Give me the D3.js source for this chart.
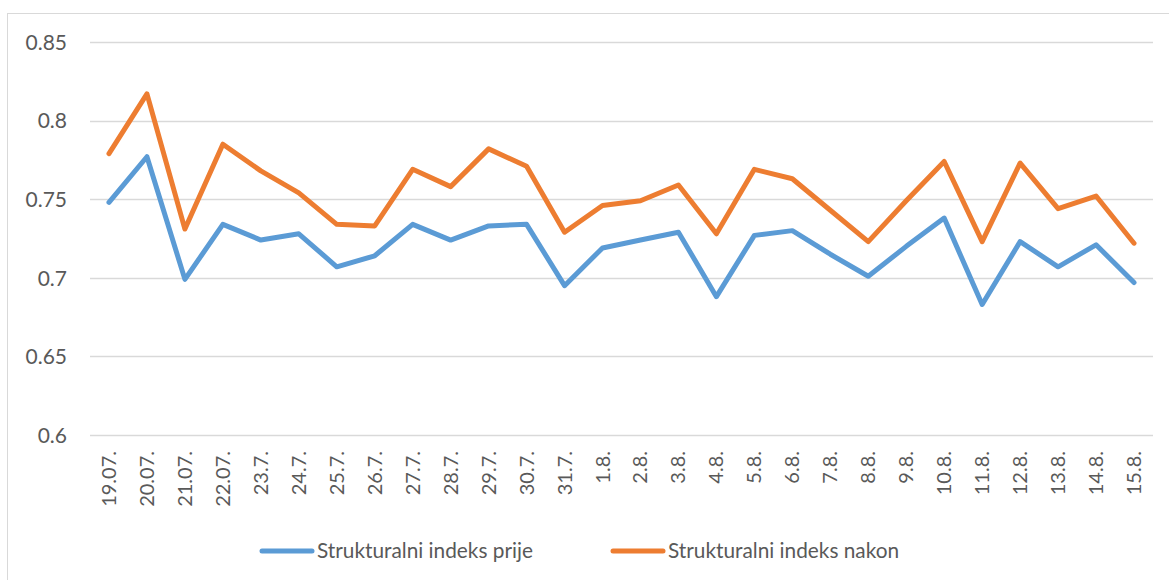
<!DOCTYPE html>
<html>
<head>
<meta charset="utf-8">
<script src="https://cdn.jsdelivr.net/npm/d3@7"></script>
<style>
  html, body { margin: 0; padding: 0; background: #fff; }
  svg { display: block; font-family: Lato, "Noto Sans", sans-serif; }
</style>
</head>
<body>
<svg id="chart" width="1169" height="580"></svg>
<script>
// Dates along the x axis
const categories = ["19.07.", "20.07.", "21.07.", "22.07.", "23.7.", "24.7.", "25.7.", "26.7.", "27.7.", "28.7.",
  "29.7.", "30.7.", "31.7.", "1.8.", "2.8.", "3.8.", "4.8.", "5.8.", "6.8.", "7.8.",
  "8.8.", "9.8.", "10.8.", "11.8.", "12.8.", "13.8.", "14.8.", "15.8."];

// Structural index before
const prije = [0.748, 0.777, 0.699, 0.734, 0.724, 0.728, 0.707, 0.714, 0.734, 0.724,
  0.733, 0.734, 0.695, 0.719, 0.724, 0.729, 0.688, 0.727, 0.730, 0.715,
  0.701, 0.720, 0.738, 0.683, 0.723, 0.707, 0.721, 0.697];

// Structural index after
const nakon = [0.779, 0.817, 0.731, 0.785, 0.768, 0.754, 0.734, 0.733, 0.769, 0.758,
  0.782, 0.771, 0.729, 0.746, 0.749, 0.759, 0.728, 0.769, 0.763, 0.743,
  0.723, 0.749, 0.774, 0.723, 0.773, 0.744, 0.752, 0.722];

const yTicks = [0.6, 0.65, 0.7, 0.75, 0.8, 0.85];
const seriesNames = ["Strukturalni indeks prije", "Strukturalni indeks nakon"];
const colors = ["#5B9BD5", "#ED7D31"];

const svg = d3.select("#chart");
const plot = { left: 90, right: 1153, top: 42, bottom: 435 };

// Outer chart frame
svg.append("rect")
  .attr("x", 7.5).attr("y", 13.5)
  .attr("width", 1200).attr("height", 600)
  .attr("fill", "none").attr("stroke", "#D9D9D9").attr("stroke-width", 1);

const x = d3.scaleBand().domain(categories).range([plot.left, plot.right]).padding(0);
const y = d3.scaleLinear().domain([0.6, 0.85]).range([plot.bottom, plot.top]);

// Horizontal gridlines
svg.append("g").selectAll("line").data(yTicks).join("line")
  .attr("x1", plot.left).attr("x2", plot.right)
  .attr("y1", d => Math.round(y(d)) + 0.5).attr("y2", d => Math.round(y(d)) + 0.5)
  .attr("stroke", "#D9D9D9").attr("stroke-width", 1.5);

// Y axis labels
const yAxis = d3.axisLeft(y).tickValues(yTicks).tickSize(0).tickPadding(0)
  .tickFormat(d => String(+d.toFixed(2)));
const gy = svg.append("g").attr("transform", "translate(67,0)").call(yAxis);
gy.select(".domain").remove();
gy.selectAll("text").attr("fill", "#595959").style("font-size", "21px")
  .attr("dy", "0.35em").attr("font-family", "Lato, sans-serif");

// X axis labels, rotated
const xAxis = d3.axisBottom(x).tickSize(0).tickPadding(0);
const gx = svg.append("g").attr("transform", `translate(0,${plot.bottom})`).call(xAxis);
gx.select(".domain").remove();
gx.selectAll("text")
  .attr("fill", "#595959").style("font-size", "20px").attr("font-family", "Lato, sans-serif")
  .attr("transform", "rotate(-90)")
  .attr("text-anchor", "end")
  .attr("x", -16).attr("y", 0).attr("dy", "0.35em");

// Series lines
const line = d3.line()
  .x((d, i) => x(categories[i]) + x.bandwidth() / 2)
  .y(d => y(d));

[prije, nakon].forEach((vals, i) => {
  svg.append("path")
    .datum(vals)
    .attr("d", line)
    .attr("fill", "none")
    .attr("stroke", colors[i])
    .attr("stroke-width", 5)
    .attr("stroke-linejoin", "round")
    .attr("stroke-linecap", "round");
});

// Legend
const legendItems = [{ x: 262, name: seriesNames[0], color: colors[0] },
                     { x: 613, name: seriesNames[1], color: colors[1] }];
const lg = svg.append("g");
legendItems.forEach(it => {
  lg.append("line")
    .attr("x1", it.x).attr("x2", it.x + 50)
    .attr("y1", 551).attr("y2", 551)
    .attr("stroke", it.color).attr("stroke-width", 5).attr("stroke-linecap", "round");
  lg.append("text")
    .attr("x", it.x + 55).attr("y", 551).attr("dy", "0.35em")
    .attr("fill", "#595959").style("font-size", "20.8px")
    .text(it.name);
});
</script>
</body>
</html>
